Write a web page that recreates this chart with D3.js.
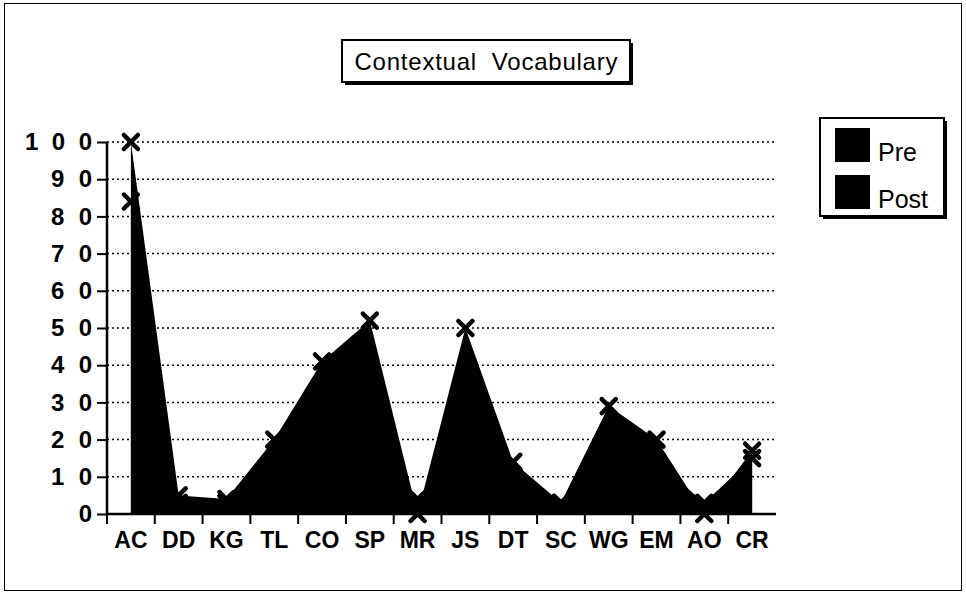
<!DOCTYPE html>
<html>
<head>
<meta charset="utf-8">
<script src="https://cdn.jsdelivr.net/npm/d3@7"></script>
<style>
  html, body { margin: 0; padding: 0; background: #fff; }
  svg { display: block; font-family: "Liberation Sans", Arial, Helvetica, sans-serif; }
</style>
</head>
<body>
<svg id="chart" width="966" height="603"></svg>
<script>
// ---- data ----
const categories = ["AC", "DD", "KG", "TL", "CO", "SP", "MR", "JS", "DT", "SC", "WG", "EM", "AO", "CR"];
const preValues  = [84, 3, 3, 5, 12, 15, 4, 9, 10, 3, 20, 14, 3, 15];
const postValues = [100, 5, 4, 20, 41, 52, 0, 50, 14, 3, 29, 20, 0, 17];
const yTicks = [0, 10, 20, 30, 40, 50, 60, 70, 80, 90, 100];
const seriesNames = ["Pre", "Post"];
const chartTitle = "Contextual  Vocabulary";

// ---- layout ----
const svg = d3.select("#chart");
const plotLeft = 107, plotRight = 776, plotTop = 142, plotBottom = 514;
const step = (plotRight - plotLeft) / categories.length;

const x = d3.scalePoint().domain(categories)
  .range([plotLeft + step / 2, plotRight - step / 2]);
const y = d3.scaleLinear().domain([0, 100]).range([plotBottom, plotTop]);

// outer frame
svg.append("rect").attr("x", 4.5).attr("y", 3.5).attr("width", 957).attr("height", 587)
  .attr("fill", "none").attr("stroke", "#000").attr("stroke-width", 1);

// gridlines
svg.append("g").selectAll("line").data(yTicks.filter(t => t > 0)).join("line")
  .attr("x1", plotLeft).attr("x2", plotRight)
  .attr("y1", d => y(d)).attr("y2", d => y(d))
  .attr("stroke", "#000").attr("stroke-width", 1.5).attr("stroke-dasharray", "2,3");

// areas
const area = d3.area()
  .x((d, i) => x(categories[i]))
  .y0(y(0))
  .y1(d => y(d));
[preValues, postValues].forEach(vals => {
  svg.append("path").datum(vals).attr("d", area).attr("fill", "#000");
});

// X markers
const mk = 7;
[preValues, postValues].forEach(vals => {
  svg.append("g").selectAll("path").data(vals).join("path")
    .attr("d", (d, i) => {
      const cx = x(categories[i]), cy = y(d);
      return `M${cx - mk},${cy - mk}L${cx + mk},${cy + mk}M${cx - mk},${cy + mk}L${cx + mk},${cy - mk}`;
    })
    .attr("stroke", "#000").attr("stroke-width", 4.5).attr("stroke-linecap", "round").attr("fill", "none");
});

// y axis
const yAxis = d3.axisLeft(y).tickValues(yTicks).tickSize(10).tickPadding(5);
const gy = svg.append("g").attr("transform", `translate(${plotLeft},0)`).call(yAxis);
gy.select(".domain").attr("stroke-width", 2.5).attr("d", `M0,${plotBottom}V${plotTop}`);
gy.selectAll(".tick line").attr("stroke-width", 2);
gy.selectAll(".tick text").attr("font-size", 24).attr("font-weight", "bold").attr("fill", "#000")
  .attr("font-family", "'Liberation Sans', Arial, sans-serif")
  .attr("textLength", d => String(d).length > 1 ? (String(d).length - 1) * 26 + 15 : null)
  .attr("lengthAdjust", "spacing");

// x axis with ticks at category boundaries
const gx = svg.append("g").attr("transform", `translate(0,${plotBottom})`);
gx.append("line").attr("x1", plotLeft).attr("x2", plotRight).attr("y1", 0).attr("y2", 0)
  .attr("stroke", "#000").attr("stroke-width", 2.5);
gx.selectAll("line.tk").data(d3.range(categories.length)).join("line").attr("class", "tk")
  .attr("x1", i => plotLeft + i * step).attr("x2", i => plotLeft + i * step)
  .attr("y1", 0).attr("y2", 10).attr("stroke", "#000").attr("stroke-width", 2);
gx.selectAll("text").data(categories).join("text")
  .attr("x", d => x(d)).attr("y", 34).attr("text-anchor", "middle")
  .attr("font-size", 23).attr("font-weight", "bold").attr("fill", "#000").text(d => d);

// title box
const tb = { x: 342, y: 40, w: 288, h: 42 };
svg.append("rect").attr("x", tb.x + 3).attr("y", tb.y + 3).attr("width", tb.w).attr("height", tb.h).attr("fill", "#000");
svg.append("rect").attr("x", tb.x).attr("y", tb.y).attr("width", tb.w).attr("height", tb.h)
  .attr("fill", "#fff").attr("stroke", "#000").attr("stroke-width", 2);
svg.append("text").attr("x", tb.x + tb.w / 2).attr("y", 70).attr("text-anchor", "middle")
  .attr("font-size", 24).attr("fill", "#000").attr("xml:space", "preserve")
  .style("white-space", "pre")
  .attr("textLength", 263).attr("lengthAdjust", "spacing").text(chartTitle);

// legend
const lg = { x: 820, y: 118, w: 124, h: 98 };
svg.append("rect").attr("x", lg.x + 3).attr("y", lg.y + 3).attr("width", lg.w).attr("height", lg.h).attr("fill", "#000");
svg.append("rect").attr("x", lg.x).attr("y", lg.y).attr("width", lg.w).attr("height", lg.h)
  .attr("fill", "#fff").attr("stroke", "#000").attr("stroke-width", 2);
const li = svg.append("g").selectAll("g").data(seriesNames).join("g")
  .attr("transform", (d, i) => `translate(${lg.x + 15},${lg.y + 10 + i * 47})`);
li.append("rect").attr("width", 35).attr("height", 34).attr("fill", "#000");
li.append("text").attr("x", 43).attr("y", 33).attr("font-size", 25).attr("fill", "#000").text(d => d);
</script>
</body>
</html>
